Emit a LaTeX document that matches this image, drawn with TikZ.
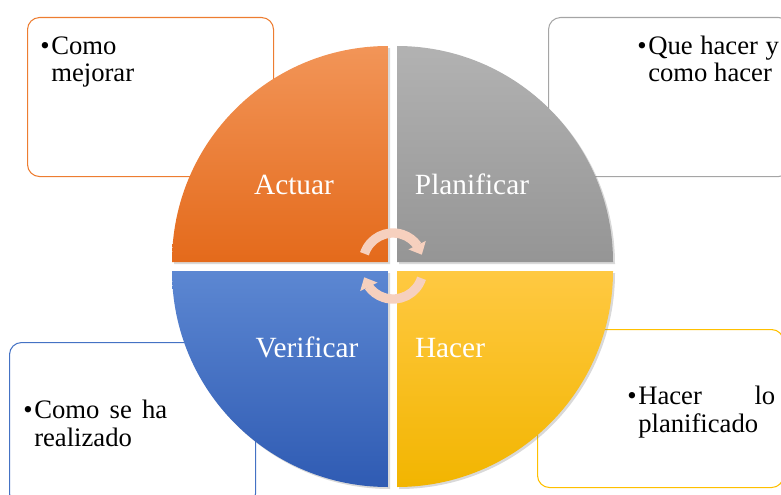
\documentclass[tikz,border=0pt]{standalone}
\usepackage{fontspec}
\setmainfont{Liberation Serif}
\usetikzlibrary{
    arrows.meta,
    bending,
    shadows,
    positioning
}
\definecolor{actline}{HTML}{ED7D31}
\definecolor{planline}{HTML}{A5A5A5}
\definecolor{verline}{HTML}{4472C4}
\definecolor{hacline}{HTML}{FFC000}
\definecolor{acttop}{HTML}{F29558}
\definecolor{actbot}{HTML}{E46A1B}
\definecolor{plantop}{HTML}{B2B2B2}
\definecolor{planbot}{HTML}{959595}
\definecolor{vertop}{HTML}{5C87D2}
\definecolor{verbot}{HTML}{2F5BB3}
\definecolor{hactop}{HTML}{FFC942}
\definecolor{hacbot}{HTML}{F2B500}
\definecolor{peach}{HTML}{F6D0BE}
\tikzstyle{sector} = [
    drop shadow={opacity=0.3, shadow xshift=1.5pt, shadow yshift=-1.5pt}
]
\tikzstyle{phase} = [
    text=white,
    font=\fontsize{22}{24}\selectfont,
    anchor=base,
    inner sep=0pt
]
\tikzstyle{notebox} = [
    draw,
    line width=0.8pt,
    rounded corners=9pt,
    anchor=north west,
    inner sep=0pt
]
\tikzstyle{note} = [
    anchor=base west,
    inner sep=0pt,
    font=\fontsize{20}{21}\selectfont
]
\tikzstyle{turn} = [
    draw=peach,
    line width=7pt,
    -{Triangle[length=8pt, width=14pt, flex]}
]
\newcommand{\bul}{\makebox[8.25pt][l]{\textbullet}}

\begin{document}
\begin{tikzpicture}[x=0.75pt, y=0.75pt]
        \useasboundingbox (0,0) rectangle (781,494);

        % Note boxes
        \node[notebox, draw=actline, minimum width=184.5pt, minimum height=119.25pt] (actbox) at (27,477) {};
        \node[notebox, draw=planline, minimum width=181.5pt, minimum height=119.25pt] (planbox) at (548,477) {};
        \node[notebox, draw=verline, minimum width=184.5pt, minimum height=122.25pt] (verbox) at (9,152) {};
        \node[notebox, draw=hacline, minimum width=184.5pt, minimum height=118.5pt] (hacbox) at (537,165) {};

        % Note texts
        \node[note] (actnote) at (40,440) {\bul\parbox[t]{110pt}{\raggedright Como\\mejorar}};
        \node[note] (plannote) at (637,440) {\bul\parbox[t]{98pt}{Que hacer y\linebreak como hacer}};
        \node[note] (vernote) at (23,76) {\bul\parbox[t]{99.75pt}{Como se ha\linebreak realizado}};
        \node[note] (hacnote) at (627,90) {\bul\parbox[t]{102.75pt}{Hacer lo\linebreak planificado}};

        % Quarter sectors
        \path[sector, top color=acttop, bottom color=actbot]
            (388,232) -- ++(-216,0) arc[start angle=180, end angle=90, radius=216] -- cycle;
        \path[sector, top color=plantop, bottom color=planbot]
            (397,232) -- ++(0,216) arc[start angle=90, end angle=0, radius=216] -- cycle;
        \path[sector, top color=vertop, bottom color=verbot]
            (388,223) -- ++(-216,0) arc[start angle=180, end angle=270, radius=216] -- cycle;
        \path[sector, top color=hactop, bottom color=hacbot]
            (397,223) -- ++(0,-216) arc[start angle=270, end angle=360, radius=216] -- cycle;

        % Phase labels
        \node[phase] (actuar) at (294,300) {Actuar};
        \node[phase] (planificar) at (472,300) {Planificar};
        \node[phase] (verificar) at (307,137) {Verificar};
        \node[phase] (hacer) at (450,137) {Hacer};

        % Cycle arrows
        \coordinate (cyctop) at (393,231);
        \coordinate (cycbot) at (393,225);
        \draw[turn] ([shift={(162:30)}]cyctop) arc[start angle=162, end angle=16, radius=30];
        \draw[turn] ([shift={(-18:30)}]cycbot) arc[start angle=-18, end angle=-164, radius=30];
    \end{tikzpicture}
\end{document}
